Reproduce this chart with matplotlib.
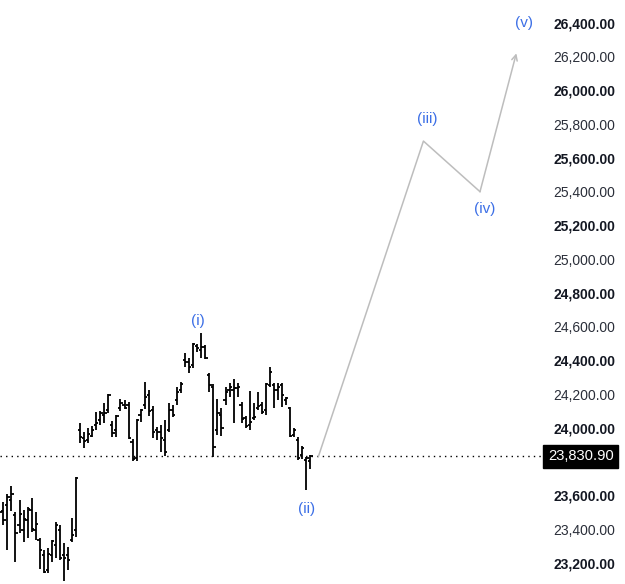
import matplotlib.pyplot as plt
from matplotlib.ticker import FuncFormatter

# daily OHLC bars
opens = [23543, 23508, 23543, 23573, 23484, 23425, 23395, 23455, 23514, 23395,
         23336, 23247, 23158, 23247, 23306, 23395, 23247, 23247, 23336, 23395,
         23988, 23940, 23929, 23953, 24018, 24047, 24077, 24106, 24018, 23988,
         24118, 24136, 24136, 23917, 23822, 24077, 24136, 24196, 24106, 23988,
         23976, 23929, 23988, 24106, 24166, 24225, 24403, 24391, 24373, 24486,
         24462, 24480, 24314, 24243, 23988, 24077, 24166, 24225, 24225, 24237,
         24136, 24059, 24018, 24059, 24118, 24136, 24106, 24255, 24255, 24225,
         24255, 24166, 24118, 23959, 23929, 23840, 23810, 23804]
highs = [23573, 23561, 23609, 23656, 23502, 23573, 23514, 23531, 23585, 23502,
         23348, 23277, 23289, 23336, 23443, 23425, 23318, 23294, 23467, 23710,
         24029, 23976, 24000, 24012, 24095, 24101, 24148, 24202, 24041, 24077,
         24172, 24166, 24154, 23935, 24053, 24113, 24272, 24225, 24130, 24006,
         24018, 24047, 24148, 24136, 24243, 24272, 24444, 24415, 24504, 24498,
         24563, 24492, 24326, 24261, 24172, 24118, 24243, 24267, 24290, 24267,
         24154, 24071, 24219, 24148, 24213, 24154, 24267, 24362, 24267, 24267,
         24267, 24184, 24124, 24000, 23947, 23893, 23828, 23840]
lows = [23455, 23425, 23277, 23508, 23206, 23377, 23324, 23348, 23383, 23336,
        23164, 23141, 23141, 23206, 23229, 23217, 23093, 23158, 23324, 23354,
        23911, 23881, 23911, 23947, 23988, 24018, 24029, 24089, 23947, 23947,
        24101, 24113, 23935, 23804, 23804, 24035, 24113, 24071, 23940, 23929,
        23858, 23834, 23976, 24065, 24136, 24207, 24361, 24326, 24355, 24450,
        24415, 24409, 24213, 23828, 23959, 23953, 24136, 24184, 24029, 24184,
        24029, 24000, 23988, 24047, 24106, 24083, 24077, 24243, 24118, 24166,
        24124, 24136, 23947, 23947, 23810, 23816, 23632, 23757]
closes = [23502, 23455, 23591, 23609, 23377, 23490, 23461, 23520, 23401, 23431,
          23277, 23145, 23253, 23330, 23425, 23229, 23229, 23217, 23366, 23705,
          23947, 23923, 23964, 23988, 24029, 24089, 24089, 24195, 23970, 24071,
          24148, 24118, 23940, 23816, 24048, 24106, 24184, 24101, 23976, 23976,
          23940, 23858, 24106, 24077, 24213, 24261, 24391, 24361, 24498, 24474,
          24480, 24415, 24255, 23887, 24089, 24000, 24213, 24243, 24237, 24243,
          24053, 24012, 24035, 24065, 24130, 24095, 24261, 24331, 24225, 24243,
          24196, 24178, 23950, 23988, 23822, 23881, 23822, 23830.9]

# projected wave path: start, (iii), (iv), (v)
proj_x = [79, 105, 119, 128]
proj_y = [23830.9, 25700, 25400, 26220]
wave_labels = ["(i)", "(ii)", "(iii)", "(iv)", "(v)"]

price_ticks = [23200, 23400, 23600, 24000, 24200, 24400, 24600, 24800,
               25000, 25200, 25400, 25600, 25800, 26000, 26200, 26400]

fig = plt.figure(figsize=(6.25, 5.84), dpi=100)
ax = fig.add_axes([0, 0, 543 / 625, 1])

x = list(range(len(closes)))
ax.vlines(x, lows, highs, color="black", lw=1.3)
ax.hlines(opens, [i - 0.55 for i in x], x, color="black", lw=1.3)
ax.hlines(closes, x, [i + 0.55 for i in x], color="black", lw=1.3)

last = closes[-1]
ax.axhline(last, color="black", lw=1, linestyle=(0, (1, 3)))

# wave projection
ax.plot(proj_x[:3], proj_y[:3], color="#bdbdbd", lw=1.1)
ax.annotate("", xy=(proj_x[3], proj_y[3]), xytext=(proj_x[2], proj_y[2]),
            arrowprops=dict(arrowstyle="->", color="#bdbdbd", lw=1.1,
                            shrinkA=0, shrinkB=0, mutation_scale=10))

blue = "#3c6fe6"
anchors = [(50, highs[50]), (76, lows[76]), (proj_x[1], proj_y[1]),
           (proj_x[2], proj_y[2]), (proj_x[3], proj_y[3])]
offsets = [(-2.7, 8.8), (0.5, -13.7), (2.5, 16.1), (3.5, -12.4), (5.5, 21.9)]
for lab, a, o in zip(wave_labels, anchors, offsets):
    ax.annotate(lab, xy=a, xytext=o, textcoords="offset points",
                ha="center", va="center", color=blue, fontsize=11,
                family="Liberation Sans")

ax.set_xlim(0.17, 134.6)
ax.set_ylim(23075, 26536)

ax.yaxis.tick_right()
ax.set_yticks(price_ticks)
ax.yaxis.set_major_formatter(FuncFormatter(lambda v, p: f"{v:,.2f}"))
ax.tick_params(axis="y", length=0, pad=7.5, labelsize=10, labelcolor="#131722")
ax.set_xticks([])
for lbl, v in zip(ax.get_yticklabels(), price_ticks):
    lbl.set_family("Liberation Sans")
    if v % 400 == 0:
        lbl.set_fontweight("bold")
    else:
        lbl.set_color("#2a2e39")
for s in ax.spines.values():
    s.set_visible(False)

ax.annotate(f"{last:,.2f}", xy=(1, last), xycoords=("axes fraction", "data"),
            xytext=(3.5, 0), textcoords="offset points", ha="left", va="center",
            color="white", fontsize=10.6, family="Liberation Sans",
            bbox=dict(boxstyle="square,pad=0.33", fc="black", ec="black"),
            annotation_clip=False, zorder=5)

plt.savefig("out.png", dpi=100)
